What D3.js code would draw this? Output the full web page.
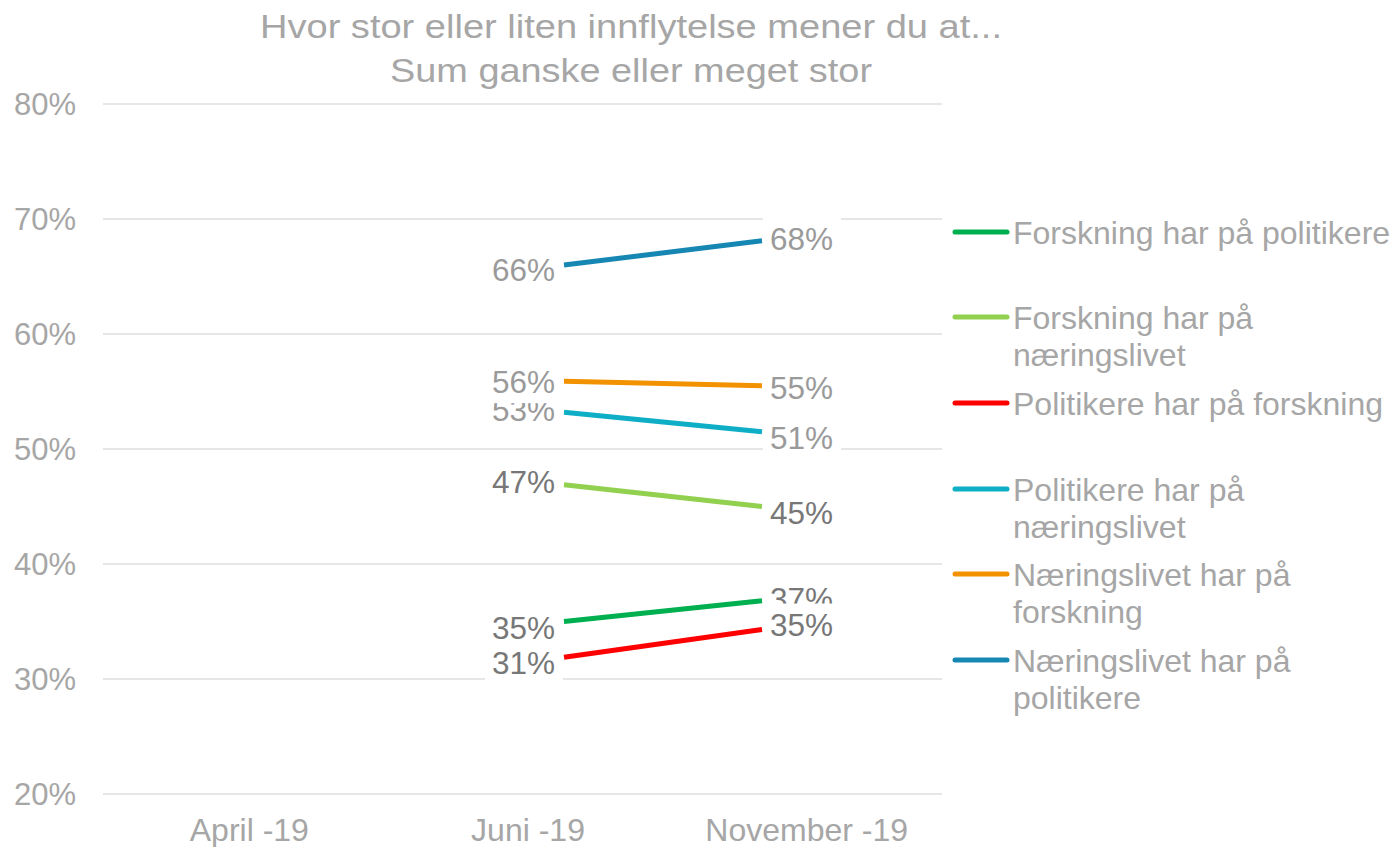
<!DOCTYPE html>
<meta charset="utf-8">
<head>
<style>
  body { margin: 0; background: #fff; }
  svg text { font-family: "Liberation Sans", Arial, sans-serif; }
</style>
</head>
<title>Innflytelse</title>
<script src="https://d3js.org/d3.v7.min.js"></script>
<div id="chart"></div>
<script>

// categories on the x axis
var months = ["April -19", "Juni -19", "November -19"];
var yTicks = [20, 30, 40, 50, 60, 70, 80];

// series, in legend order
var seriesNames = [
  "Forskning har på politikere",
  "Forskning har på næringslivet",
  "Politikere har på forskning",
  "Politikere har på næringslivet",
  "Næringslivet har på forskning",
  "Næringslivet har på politikere"
];
// values per month (April has no data)
var forskPol   = [null, 35.0, 36.8];
var forskNaer  = [null, 46.9, 45.0];
var polForsk   = [null, 31.9, 34.3];
var polNaer    = [null, 53.2, 51.5];
var naerForsk  = [null, 55.9, 55.5];
var naerPol    = [null, 66.0, 68.1];
// data label texts
var forskPolLab  = ["", "35%", "37%"];
var forskNaerLab = ["", "47%", "45%"];
var polForskLab  = ["", "31%", "35%"];
var polNaerLab   = ["", "53%", "51%"];
var naerForskLab = ["", "56%", "55%"];
var naerPolLab   = ["", "66%", "68%"];

var colors = ["#00b050", "#92d050", "#ff0000", "#0eaec6", "#f39200", "#1687b3"];
var labelColors = ["#777", "#777", "#777", "#9a9a9a", "#9a9a9a", "#9a9a9a"];
// vertical nudge of labels (Juni, November), like the manual placement in the original
var labelNudge = [[6, -2], [-3, 6], [6, -5], [-3, 6], [1, 2], [5, -2]];

var allValues = [forskPol, forskNaer, polForsk, polNaer, naerForsk, naerPol];
var allLabels = [forskPolLab, forskNaerLab, polForskLab, polNaerLab, naerForskLab, naerPolLab];

var W = 1395, H = 847;
var svg = d3.select("#chart").append("svg")
    .attr("width", W).attr("height", H);

var y = d3.scaleLinear().domain([20, 80]).range([794, 104]);
var x = d3.scaleBand().domain(months).range([110, 946]);
// the lines sit on their own point scale
var xLine = d3.scalePoint().domain(months.slice(1)).range([564, 762]);

var grey = "#a6a6a6";

// title (the original font is wider than Arial, so stretch to its width)
svg.append("text")
  .attr("x", 631).attr("y", 38)
  .attr("text-anchor", "middle")
  .attr("textLength", 742).attr("lengthAdjust", "spacingAndGlyphs")
  .style("font-size", "34px").style("fill", grey)
  .text("Hvor stor eller liten innflytelse mener du at...");
svg.append("text")
  .attr("x", 631).attr("y", 82)
  .attr("text-anchor", "middle")
  .attr("textLength", 482).attr("lengthAdjust", "spacingAndGlyphs")
  .style("font-size", "34px").style("fill", grey)
  .text("Sum ganske eller meget stor");

// gridlines
svg.selectAll("line.grid")
  .data(yTicks)
  .enter().append("line")
  .attr("class", "grid")
  .attr("x1", 103).attr("x2", 942)
  .attr("y1", function(d) { return y(d); })
  .attr("y2", function(d) { return y(d); })
  .style("stroke", "#e6e6e6").style("stroke-width", 2);

// y axis labels
svg.selectAll("text.ytick")
  .data(yTicks)
  .enter().append("text")
  .attr("class", "ytick")
  .attr("x", 76)
  .attr("y", function(d) { return y(d); })
  .attr("dy", "0.36em")
  .attr("text-anchor", "end")
  .style("font-size", "31px").style("fill", grey)
  .text(function(d) { return d + "%"; });

// x axis labels
svg.selectAll("text.xtick")
  .data(months)
  .enter().append("text")
  .attr("class", "xtick")
  .attr("x", function(d) { return x(d) + x.bandwidth() / 2; })
  .attr("y", 841)
  .attr("text-anchor", "middle")
  .style("font-size", "32px").style("fill", grey)
  .text(function(d) { return d; });

var line = d3.line()
  .defined(function(d) { return d.v != null; })
  .x(function(d) { return xLine(d.m); })
  .y(function(d) { return y(d.v); });

// lines
allValues.forEach(function(vals, s) {
  var pts = vals.map(function(v, i) { return {m: months[i], v: v}; });
  svg.append("path")
    .datum(pts.filter(function(d) { return d.v != null; }))
    .attr("d", line)
    .style("fill", "none")
    .style("stroke", colors[s])
    .style("stroke-width", 5);
});

// data labels with white boxes, later series on top
allValues.forEach(function(vals, s) {
  vals.forEach(function(v, i) {
    if (v == null) return;
    var left = (i == 1);
    var px = xLine(months[i]);
    var cy = y(v) + labelNudge[s][i - 1];
    var g = svg.append("g");
    var t = g.append("text")
      .attr("x", left ? px - 9 : px + 8)
      .attr("y", cy)
      .attr("dy", "0.36em")
      .attr("text-anchor", left ? "end" : "start")
      .style("font-size", "31.5px")
      .style("fill", labelColors[s])
      .text(allLabels[s][i]);
    var bb = t.node().getBBox();
    g.insert("rect", "text")
      .attr("x", bb.x - 7).attr("width", bb.width + 15)
      .attr("y", cy - 21).attr("height", 42)
      .style("fill", "#fff");
  });
});

// legend
var legend = svg.append("g");
var legY = [232, 317, 403, 489, 574, 660];
var legLines = [
  ["Forskning har på politikere"],
  ["Forskning har på", "næringslivet"],
  ["Politikere har på forskning"],
  ["Politikere har på", "næringslivet"],
  ["Næringslivet har på", "forskning"],
  ["Næringslivet har på", "politikere"]
];
seriesNames.forEach(function(name, s) {
  legend.append("line")
    .attr("x1", 955).attr("x2", 1007)
    .attr("y1", legY[s]).attr("y2", legY[s])
    .style("stroke", colors[s]).style("stroke-width", 5)
    .style("stroke-linecap", "round");
  var t = legend.append("text")
    .attr("x", 1013).attr("y", legY[s])
    .style("font-size", "32px").style("fill", grey);
  legLines[s].forEach(function(part, k) {
    t.append("tspan")
      .attr("x", 1013)
      .attr("dy", k == 0 ? "0.36em" : "1.17em")
      .text(part);
  });
});

</script>
